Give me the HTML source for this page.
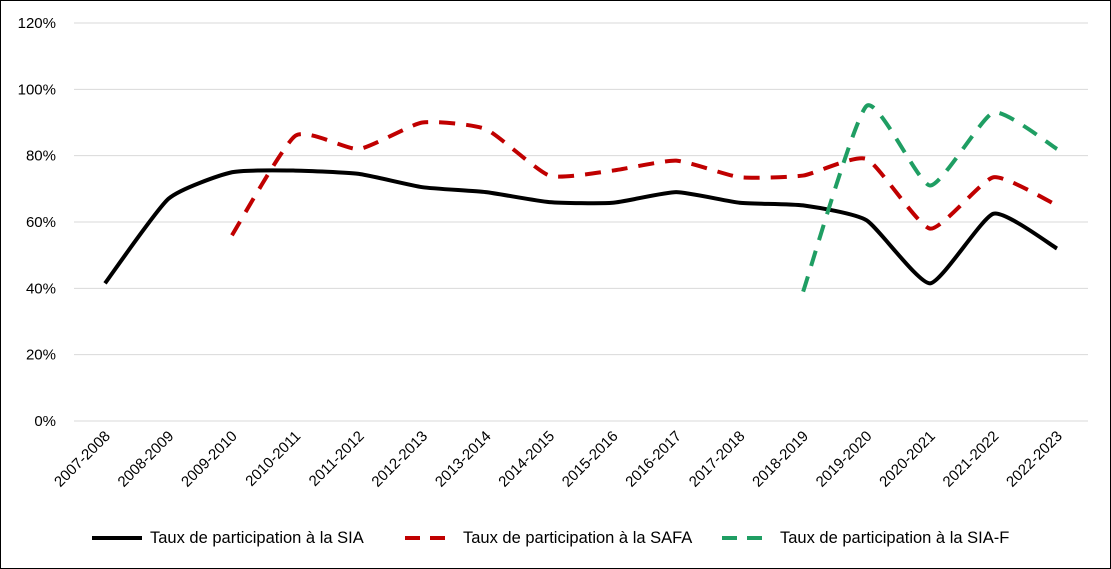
<!DOCTYPE html>
<html><head><meta charset="utf-8"><style>
body{margin:0;background:#fff;}
#wrap{position:relative;width:1111px;height:569px;}
svg{position:absolute;left:0;top:0;font-family:"Liberation Sans",sans-serif;}
</style></head><body>
<div id="wrap">
<svg id="chart" width="1111" height="569"></svg>
</div>
<script>
const categories=["2007-2008","2008-2009","2009-2010","2010-2011","2011-2012","2012-2013","2013-2014","2014-2015","2015-2016","2016-2017","2017-2018","2018-2019","2019-2020","2020-2021","2021-2022","2022-2023"];
const siaValues=[41.5,67,75,75.5,74.5,70.5,69,66,65.8,69,65.8,65,60.5,41.5,62.5,52];
const safaValues=[null,null,56,86,82,90,88,74,75.5,78.5,73.5,74,79,58,73.5,65];
const siafValues=[null,null,null,null,null,null,null,null,null,null,null,39,95,71,93,82];
const yTicks=[0,20,40,60,80,100,120];
const yTickLabels=["0%","20%","40%","60%","80%","100%","120%"];
const seriesNames=["Taux de participation à la SIA","Taux de participation à la SAFA","Taux de participation à la SIA-F"];

const NS="http://www.w3.org/2000/svg";
const svg=document.getElementById('chart');
const L=74,R=1088,T=23,B=421;
const x=i=>105+i*(1057-105)/(categories.length-1);
const y=v=>B-(v/120)*(B-T);
function mk(t,a){const e=document.createElementNS(NS,t);for(const k in a)e.setAttribute(k,a[k]);svg.appendChild(e);return e;}
const border=mk('rect',{x:0.5,y:0.5,width:1110,height:568,fill:'none',stroke:'#000','stroke-width':1});


yTicks.forEach((v,i)=>{
 const g=mk('line',{x1:L,x2:R,y1:y(v),y2:y(v),stroke:'#d9d9d9','stroke-width':1});
 
 
 const t=mk('text',{x:56,y:y(v)+5,'text-anchor':'end','font-size':15,fill:'#000'});
 t.textContent=yTickLabels[i];
 
 
});
categories.forEach((c,i)=>{
 const t=mk('text',{x:0,y:0,'text-anchor':'end','font-size':15,fill:'#000',transform:`translate(${x(i)+6},${B+16}) rotate(-45)`});
 t.textContent=c;
 
 
});
function smooth(vals){
 const pts=[];vals.forEach((v,i)=>{if(v!==null)pts.push([x(i),y(v)]);});
 let d=`M${pts[0][0]},${pts[0][1]}`;
 for(let i=0;i<pts.length-1;i++){
  const p0=pts[Math.max(0,i-1)],p1=pts[i],p2=pts[i+1],p3=pts[Math.min(pts.length-1,i+2)];
  const k=0.09;
  const c1=[p1[0]+(p2[0]-p0[0])*k,p1[1]+(p2[1]-p0[1])*k];
  const c2=[p2[0]-(p3[0]-p1[0])*k,p2[1]-(p3[1]-p1[1])*k];
  d+=` C${c1[0]},${c1[1]} ${c2[0]},${c2[1]} ${p2[0]},${p2[1]}`;
 }
 return d;
}
const styles=[{c:'#000',dash:''},{c:'#c00000',dash:'16 11'},{c:'#1f9e63',dash:'16 11'}];
const names=['sia-line','safa-line','siaf-line'];
[siaValues,safaValues,siafValues].forEach((vals,s)=>{
 const p=mk('path',{d:smooth(vals),fill:'none',stroke:styles[s].c,'stroke-width':4,'stroke-dasharray':styles[s].dash});
 
 
});
const legX=[92,405,722];
seriesNames.forEach((n,s)=>{
 const l=mk('line',{x1:legX[s],x2:legX[s]+50,y1:538,y2:538,stroke:styles[s].c,'stroke-width':4,'stroke-dasharray':s?'15 10':''});
 
 
 const t=mk('text',{x:legX[s]+58,y:543,'font-size':16.5,fill:'#000'});
 t.textContent=n;
 
 
});
</script>
</body></html>
